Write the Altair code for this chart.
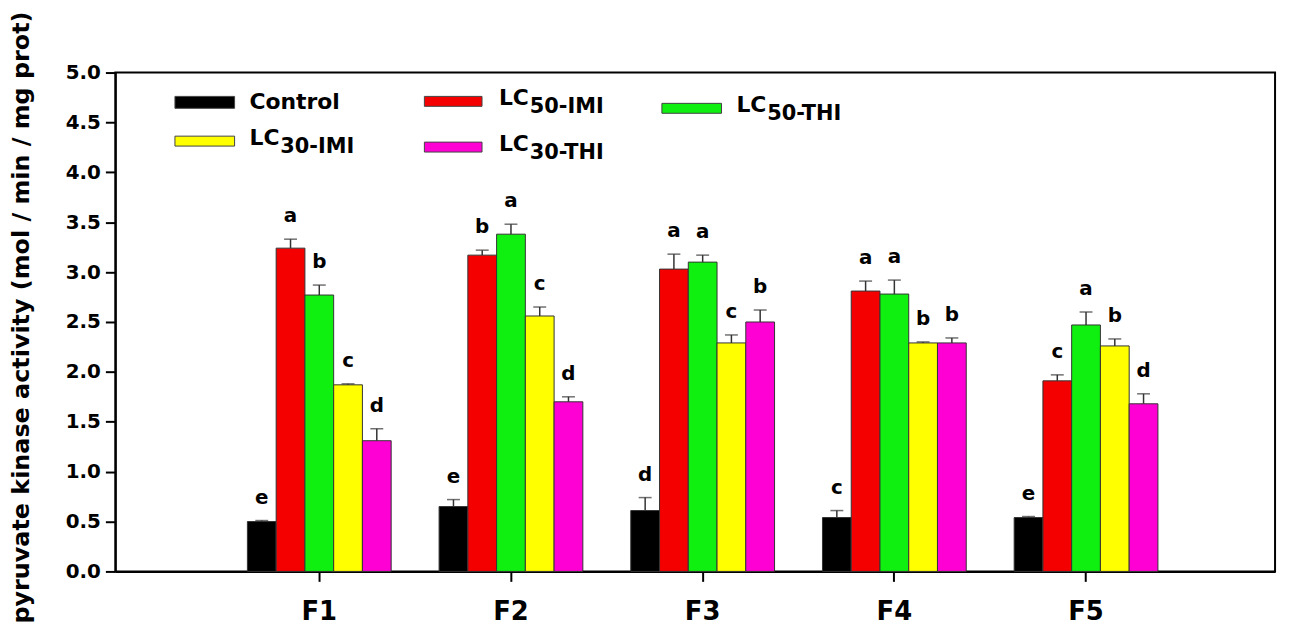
import altair as alt
import pandas as pd

groups = ["F1", "F2", "F3", "F4", "F5"]
series = ["Control", "LC50-IMI", "LC50-THI", "LC30-IMI", "LC30-THI"]
colors = ["#000000", "#f40000", "#10f010", "#ffff00", "#ff00d4"]

control = [0.50, 0.65, 0.61, 0.54, 0.54]
lc50_imi = [3.24, 3.17, 3.03, 2.81, 1.91]
lc50_thi = [2.77, 3.38, 3.10, 2.78, 2.47]
lc30_imi = [1.87, 2.56, 2.29, 2.29, 2.26]
lc30_thi = [1.31, 1.70, 2.50, 2.29, 1.68]

err_control = [0.01, 0.07, 0.13, 0.07, 0.01]
err_lc50_imi = [0.09, 0.05, 0.15, 0.10, 0.06]
err_lc50_thi = [0.10, 0.10, 0.07, 0.14, 0.13]
err_lc30_imi = [0.01, 0.09, 0.08, 0.01, 0.07]
err_lc30_thi = [0.12, 0.05, 0.12, 0.05, 0.10]

let_control = ["e", "e", "d", "c", "e"]
let_lc50_imi = ["a", "b", "a", "a", "c"]
let_lc50_thi = ["b", "a", "a", "a", "a"]
let_lc30_imi = ["c", "c", "c", "b", "b"]
let_lc30_thi = ["d", "d", "b", "b", "d"]

legend_main = ["Control", "LC", "LC", "LC", "LC"]
legend_sub = ["", "50-IMI", "50-THI", "30-IMI", "30-THI"]

values = [control, lc50_imi, lc50_thi, lc30_imi, lc30_thi]
errors = [err_control, err_lc50_imi, err_lc50_thi, err_lc30_imi, err_lc30_thi]
letters = [let_control, let_lc50_imi, let_lc50_thi, let_lc30_imi, let_lc30_thi]

rows = []
for s, vals, errs, lets in zip(series, values, errors, letters):
    for g, v, e, l in zip(groups, vals, errs, lets):
        rows.append({"group": g, "series": s, "value": v, "upper": v + e, "letter": l})
df = pd.DataFrame(rows)

FONT = "DejaVu Sans"

x_enc = alt.X("group:N", sort=groups,
              scale=alt.Scale(paddingInner=0.25, paddingOuter=0.65, align=0.53),
              axis=alt.Axis(title=None, labelAngle=0, labelFont=FONT, labelFontSize=26,
                            labelFontWeight="bold", labelColor="black", labelPadding=17,
                            tickSize=10, tickWidth=2, tickColor="black",
                            domainColor="black", domainWidth=2))
xo_enc = alt.XOffset("series:N", sort=series,
                     scale=alt.Scale(paddingInner=0, paddingOuter=0))
y_scale = alt.Scale(domain=[0, 5], nice=False, zero=True)

base = alt.Chart(df)

bars = base.mark_bar(stroke="#333333", strokeWidth=1).encode(
    x=x_enc,
    xOffset=xo_enc,
    y=alt.Y("value:Q", scale=y_scale,
            axis=alt.Axis(title="pyruvate kinase activity (mol / min / mg prot)",
                          values=[0, 0.5, 1, 1.5, 2, 2.5, 3, 3.5, 4, 4.5, 5],
                          format=".1f", grid=False,
                          labelFont=FONT, labelFontSize=20, labelFontWeight="bold",
                          labelColor="black", labelPadding=5,
                          tickSize=10, tickWidth=2, tickColor="black",
                          domainColor="black", domainWidth=2,
                          titleFont=FONT, titleFontSize=24,
                          titleFontWeight="bold", titleColor="black",
                          titleAngle=-90, titleX=-94, titleY=246,
                          titleAlign="center", titleBaseline="middle")),
    color=alt.Color("series:N", sort=series,
                    scale=alt.Scale(domain=series, range=colors), legend=None),
)

err_rule = base.mark_rule(color="#333333", strokeWidth=1.5).encode(
    x=alt.X("group:N", sort=groups),
    xOffset=xo_enc,
    y=alt.Y("value:Q", scale=y_scale),
    y2="upper:Q",
)

err_cap = base.mark_tick(color="#333333", thickness=1.5, size=13).encode(
    x=alt.X("group:N", sort=groups),
    xOffset=xo_enc,
    y=alt.Y("upper:Q", scale=y_scale),
)

labels = base.mark_text(font=FONT, fontSize=20, fontWeight="bold", color="black",
                        baseline="middle", dy=-23).encode(
    x=alt.X("group:N", sort=groups),
    xOffset=xo_enc,
    y=alt.Y("upper:Q", scale=y_scale),
    text="letter:N",
)

# manual legend (layout in pixels relative to the plot area)
sym_pos = [(60, 120, 30), (311, 369, 29), (550, 610, 36), (60, 120, 69), (311, 369, 75)]
legend_layers = []
for i, s in enumerate(series):
    x1, x2, yc = sym_pos[i]
    one = alt.Chart(pd.DataFrame({"series": [s]}))
    h = 6 if i == 0 else 5
    legend_layers.append(one.mark_rect(color=colors[i], stroke="#444444", strokeWidth=1).encode(
        x=alt.value(x1), x2=alt.value(x2), y=alt.value(yc - h), y2=alt.value(yc + h)))
    tx = x1 + 75
    if legend_sub[i] == "":
        legend_layers.append(one.mark_text(font=FONT, fontSize=22, fontWeight="bold",
                                           color="black", align="left", baseline="middle").encode(
            x=alt.value(tx), y=alt.value(yc), text=alt.value(legend_main[i])))
    else:
        legend_layers.append(one.mark_text(font=FONT, fontSize=22, fontWeight="bold",
                                           color="black", align="left", baseline="middle").encode(
            x=alt.value(tx), y=alt.value(yc - 3), text=alt.value(legend_main[i])))
        legend_layers.append(one.mark_text(font=FONT, fontSize=21, fontWeight="bold",
                                           color="black", align="left", baseline="middle").encode(
            x=alt.value(tx + 31), y=alt.value(yc + 6), text=alt.value(legend_sub[i])))

chart = alt.layer(bars, err_rule, err_cap, labels, *legend_layers).properties(
    width=1167, height=502,
    autosize=alt.AutoSizeParams(type="none"),
    padding={"left": 108, "top": 63, "right": 8, "bottom": 58},
).configure(background="white").configure_view(stroke="black", strokeWidth=2)

chart.save("out.html", embed_options={"renderer": "svg", "actions": False})
